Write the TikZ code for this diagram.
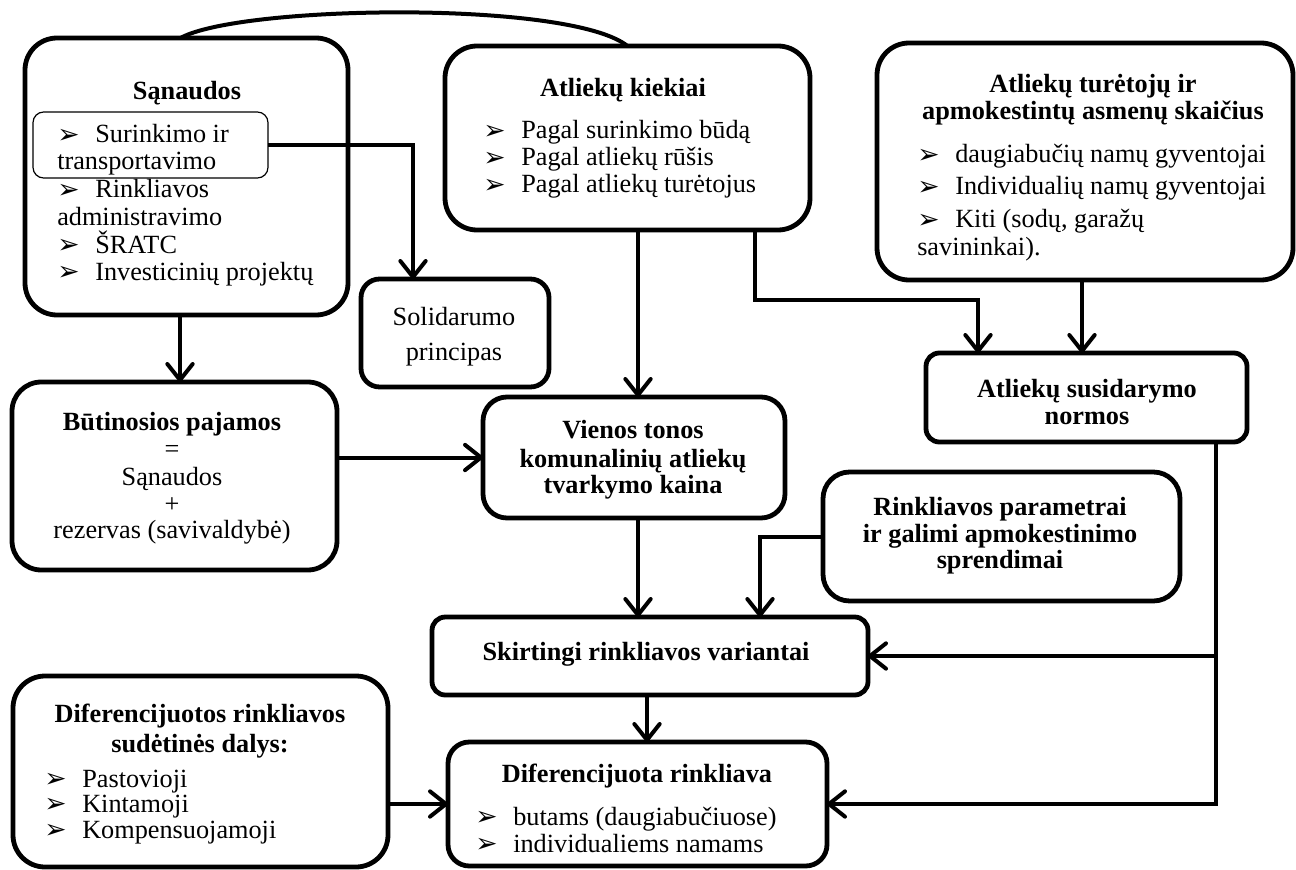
\documentclass[tikz,border=0pt]{standalone}
\usepackage{fontspec}
\setmainfont{Liberation Serif}
\newfontfamily\dvfont{DejaVu Sans}
\usetikzlibrary{arrows.meta,calc}
\newcommand\fs{\fontsize{19.7pt}{20.6pt}\selectfont}
\newcommand\bul{\makebox[28.5pt][l]{\smash{\dvfont\fontsize{20pt}{20pt}\selectfont\raisebox{-0.3pt}{➢}}}}
\newcommand\bx[7]{%
  \node[#7, rounded corners=#6, minimum width={(#4-#2)*0.75pt}, minimum height={(#5-#3)*0.75pt}] (#1) at ({(#2+#4)/2},{(#3+#5)/2}) {};}
\tikzset{
  box/.style={draw, line width=3.6pt, inner sep=0pt, outer sep=0pt},
  thinbox/.style={draw, line width=0.9pt, inner sep=0pt, outer sep=0pt},
  arr/.style={line width=3pt, -{Straight Barb[length=12pt,width=19pt,round]}},
  conn/.style={line width=3pt},
  ctxt/.style={inner sep=0pt, font=\fs, anchor=base},
  btxt/.style={inner sep=0pt, font=\fs\bfseries, anchor=base},
  ltxt/.style={inner sep=0pt, font=\fs, anchor=base west},
}
\begin{document}
\begin{tikzpicture}[x=0.75pt, y=-0.75pt, line join=miter]
\useasboundingbox (0,0) rectangle (1296,870);

% helper coordinates
\coordinate (x180) at (180,0);
\coordinate (x413) at (413,0);
\coordinate (x638) at (638,0);
\coordinate (x647) at (647,0);
\coordinate (x755) at (755,0);
\coordinate (x760) at (760,0);
\coordinate (x978) at (978,0);
\coordinate (x1082) at (1082,0);
\coordinate (x1216) at (1216,0);
\coordinate (y300) at (0,300);

% boxes
\bx{san}{25}{38}{348}{315}{24pt}{box}
\bx{inner}{33}{112}{268}{178}{8pt}{thinbox}
\bx{kiek}{445}{46}{810}{230}{24pt}{box}
\bx{tur}{877}{43}{1293}{280}{24pt}{box}
\bx{sol}{361}{279}{549}{387}{14pt}{box}
\bx{but}{12}{382}{337}{570}{22pt}{box}
\bx{vien}{483}{397}{785}{518}{18pt}{box}
\bx{norm}{926}{353}{1247}{442}{10pt}{box}
\bx{rink}{823}{472}{1180}{601}{20pt}{box}
\bx{skirt}{432}{617}{868}{695}{10pt}{box}
\bx{dif}{448}{742}{827}{866}{16pt}{box}
\bx{difl}{13}{676}{388}{867}{24pt}{box}

% Sąnaudos
\node[btxt] (sant) at (187,100) {Sąnaudos};
\node[ltxt] (s1) at (57,143) {\bul Surinkimo ir};
\node[ltxt] (s2) at (57,170) {transportavimo};
\node[ltxt] (s3) at (57,198) {\bul Rinkliavos};
\node[ltxt] (s4) at (57,225) {administravimo};
\node[ltxt] (s5) at (57,253) {\bul ŠRATC};
\node[ltxt] (s6) at (57,280) {\bul Investicinių projektų};

% Atliekų kiekiai
\node[btxt] (kt) at (623,97) {Atliekų kiekiai};
\node[ltxt] (k1) at (483,139) {\bul Pagal surinkimo būdą};
\node[ltxt] (k2) at (483,166) {\bul Pagal atliekų rūšis};
\node[ltxt] (k3) at (483,193) {\bul Pagal atliekų turėtojus};

% Atliekų turėtojų
\node[btxt] (tt1) at (1093,93) {Atliekų turėtojų ir};
\node[btxt] (tt2) at (1093,120) {apmokestintų asmenų skaičius};
\node[ltxt] (t1) at (917,163) {\bul daugiabučių namų gyventojai};
\node[ltxt] (t2) at (917,195) {\bul Individualių namų gyventojai};
\node[ltxt] (t3) at (917,228) {\bul Kiti (sodų, garažų};
\node[ltxt] (t4) at (917,255) {savininkai).};

% Solidarumo
\node[ctxt] (so1) at (454,325) {Solidarumo};
\node[ctxt] (so2) at (454,360) {principas};

% Būtinosios
\node[btxt] (b1) at (172,430) {Būtinosios pajamos};
\node[ctxt] (b2) at (172,457) {=};
\node[ctxt] (b3) at (172,485) {Sąnaudos};
\node[ctxt] (b4) at (172,512) {+};
\node[ctxt] (b5) at (172,538) {rezervas (savivaldybė)};

% Vienos tonos
\node[btxt] (v1) at (633,438) {Vienos tonos};
\node[btxt] (v2) at (633,467) {komunalinių atliekų};
\node[btxt] (v3) at (633,493) {tvarkymo kaina};

% Normos
\node[btxt] (n1) at (1087,397) {Atliekų susidarymo};
\node[btxt] (n2) at (1087,424) {normos};

% Rinkliavos parametrai
\node[btxt] (r1) at (1000,515) {Rinkliavos parametrai};
\node[btxt] (r2) at (1000,542) {ir galimi apmokestinimo};
\node[btxt] (r3) at (1000,568) {sprendimai};

% Skirtingi
\node[btxt] (sk) at (646,660) {Skirtingi rinkliavos variantai};

% Diferencijuota
\node[btxt] (d0) at (637,782) {Diferencijuota rinkliava};
\node[ltxt] (d1) at (475,825) {\bul butams (daugiabučiuose)};
\node[ltxt] (d2) at (475,852) {\bul individualiems namams};

% Diferencijuotos sudėtinės dalys
\node[btxt] (l1) at (200,722) {Diferencijuotos rinkliavos};
\node[btxt] (l2) at (200,752) {sudėtinės dalys:};
\node[ltxt] (l3) at (44,787) {\bul Pastovioji};
\node[ltxt] (l4) at (44,812) {\bul Kintamoji};
\node[ltxt] (l5) at (44,838) {\bul Kompensuojamoji};

% connectors
\draw[conn] ($(san.north)+(-6,0)$) .. controls (240,5) and (570,0) .. (kiek.north);
\draw[arr] (inner.east) -| (x413 |- sol.north);
\draw[arr] (san.south -| x180) -- (but.north -| x180);
\draw[arr] (but.east |- vien.west) -- (vien.west);
\draw[arr] (kiek.south -| x638) -- (vien.north -| x638);
\draw[arr] (kiek.south -| x755) -- (x755 |- y300) -| (x978 |- norm.north);
\draw[arr] (tur.south -| x1082) -- (norm.north -| x1082);
\draw[arr] (vien.south -| x638) -- (skirt.north -| x638);
\draw[arr] (rink.west) -| (skirt.north -| x760);
\draw[arr] (norm.south -| x1216) |- (dif.east);
\draw[arr] (x1216 |- skirt.east) -- (skirt.east);
\draw[arr] (skirt.south -| x647) -- (dif.north -| x647);
\draw[arr] (difl.east |- dif.west) -- (dif.west);
\end{tikzpicture}
\end{document}
